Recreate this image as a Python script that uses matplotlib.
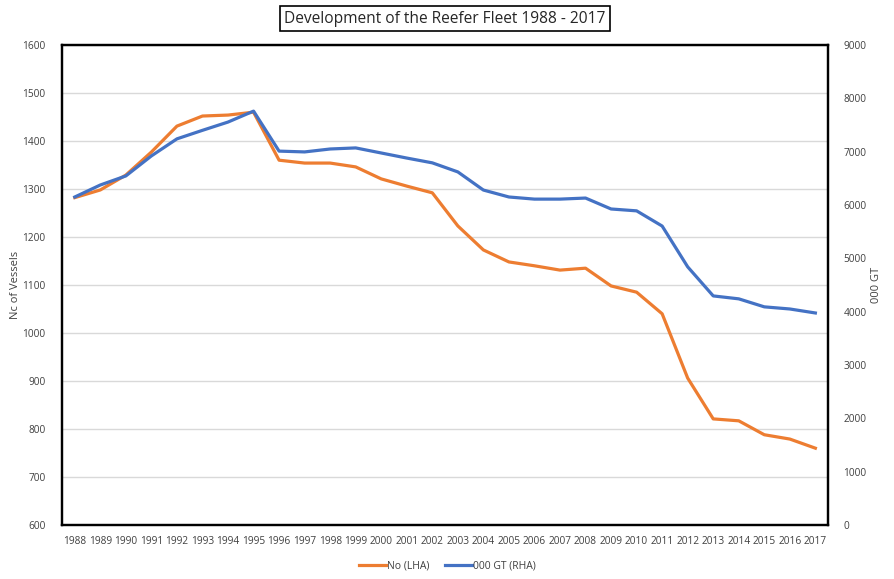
import matplotlib.pyplot as plt
from matplotlib.lines import Line2D

# Reefer fleet data
years = list(range(1988, 2018))
vessels = [1282, 1298, 1329, 1377, 1431, 1452, 1454, 1460, 1360, 1354,
           1354, 1346, 1321, 1306, 1292, 1223, 1173, 1148, 1140, 1131,
           1135, 1098, 1085, 1040, 906, 821, 817, 788, 779, 760]
gt_thousands = [6150, 6375, 6545, 6920, 7240, 7400, 7555, 7760, 7010, 6995,
                7050, 7070, 6975, 6880, 6790, 6620, 6280, 6150, 6110, 6110,
                6130, 5925, 5890, 5605, 4840, 4295, 4240, 4090, 4050, 3975]

ORANGE = '#ED7D31'
BLUE = '#4472C4'
TEXT = '#404040'

plt.rcParams['font.family'] = ['Open Sans', 'DejaVu Sans']

fig = plt.figure(figsize=(8.95, 5.79), dpi=100)
ax = fig.add_axes([0.0693, 0.0933, 0.856, 0.829])
ax2 = ax.twinx()

x = list(range(len(years)))
ax.plot(x, vessels, color=ORANGE, lw=2.3, solid_joinstyle='round', zorder=3)
ax2.plot(x, gt_thousands, color=BLUE, lw=2.3, solid_joinstyle='round', zorder=3)

# left axis
ax.set_ylim(600, 1600)
ax.set_yticks(range(600, 1601, 100))
ax.set_xlim(-0.5, len(years) - 0.5)
ax.set_xticks(x)
ax.set_xticklabels([str(y) for y in years])
ax.grid(axis='y', color='#d9d9d9', lw=1)
ax.set_axisbelow(True)
ax.tick_params(length=0, labelsize=7.3, colors=TEXT, pad=8)
ax.tick_params(axis='y', pad=12)
ax.set_ylabel('Nc of Vessels', fontsize=8, color=TEXT)
ax.yaxis.set_label_coords(-0.053, 0.5)

# right axis
ax2.set_ylim(0, 9000)
ax2.set_yticks(range(0, 9001, 1000))
ax2.tick_params(length=0, labelsize=7.3, colors=TEXT, pad=11)
ax2.set_ylabel('000 GT', fontsize=8, color=TEXT, rotation=90)
ax2.yaxis.set_label_coords(1.056, 0.5)

for a in (ax, ax2):
    for s in a.spines.values():
        s.set_color('black')
        s.set_linewidth(1.6)

fig.text(0.497, 0.968, 'Development of the Reefer Fleet 1988 - 2017',
         ha='center', va='center', fontsize=11.2, color='#262626',
         bbox=dict(facecolor='white', edgecolor='black', lw=1.2, pad=3))

handles = [Line2D([], [], color=ORANGE, lw=2.3),
           Line2D([], [], color=BLUE, lw=2.3)]
fig.legend(handles, ['No (LHA)', '000 GT (RHA)'], loc='center',
           bbox_to_anchor=(0.5, 0.022), ncol=2, frameon=False, fontsize=7.5,
           handlelength=2.6, handletextpad=0.1, columnspacing=1.5,
           labelcolor=TEXT)

fig.savefig('out.png', dpi=100)
